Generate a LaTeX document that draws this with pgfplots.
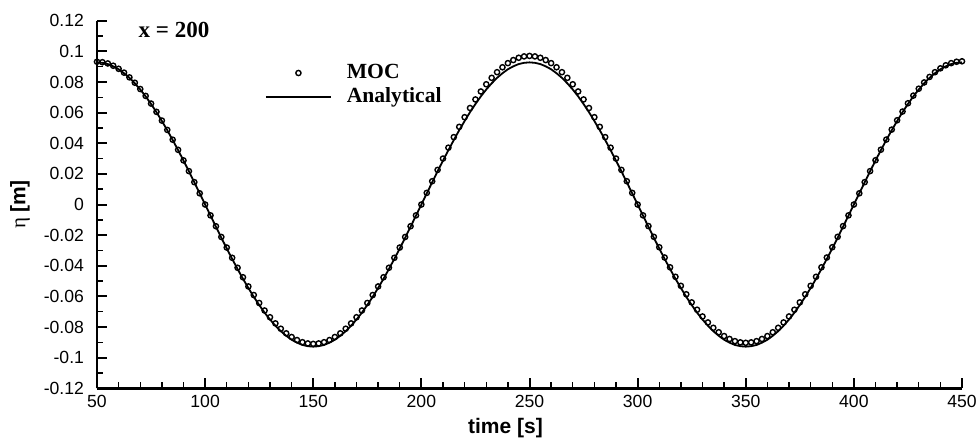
\documentclass[border=0pt]{standalone}
\usepackage{fontspec}
\setmainfont{Liberation Serif}
\setsansfont{Liberation Sans}
\usepackage{pgfplots}
\pgfplotsset{compat=1.18}
\begin{document}
\begin{tikzpicture}
\begin{axis}[
  scale only axis, width=432.5pt, height=183.8pt,
  xmin=50, xmax=450, ymin=-0.12, ymax=0.12,
  axis x line*=bottom, axis y line*=left,
  axis line style={line width=1.3pt, -},
  tick align=inside,
  major tick length=5pt, minor tick length=3pt,
  every major tick/.style={black, line width=1pt},
  every minor tick/.style={black, line width=0.7pt},
  xtick={50,100,150,200,250,300,350,400,450}, minor x tick num=4,
  ytick={-0.12,-0.1,-0.08,-0.06,-0.04,-0.02,0,0.02,0.04,0.06,0.08,0.1,0.12},
  minor y tick num=1,
  scaled y ticks=false, scaled x ticks=false,
  yticklabel style={/pgf/number format/fixed, /pgf/number format/precision=2, xshift=-3pt},
  /pgf/number format/assume math mode=true,
  ticklabel style={font=\sffamily\fontsize{8.8}{10}\selectfont},
  xlabel={\sffamily\bfseries time [s]},
  ylabel={{\rmfamily η} {\sffamily\bfseries [m]}},
  xlabel style={at={(axis description cs:0.5,0)}, anchor=center, xshift=-12pt, yshift=-20pt, font=\fontsize{10.5}{12}\selectfont},
  ylabel style={at={(axis description cs:0,0.5)}, anchor=center, rotate=0, yshift=38.5pt, font=\fontsize{10.5}{12}\selectfont},
  legend style={at={(axis cs:127.7,0.0915)}, anchor=north west, draw=none, fill=none,
    inner sep=0pt, outer sep=0pt, row sep=3pt, column sep=7.5pt,
    nodes={inner sep=0pt},
    font=\rmfamily\bfseries\fontsize{10.8}{11}\selectfont},
  legend cell align=left,
  legend image code/.code={\draw[mark repeat=2,mark phase=2,#1] plot coordinates {(0pt,0pt) (16.25pt,0pt) (32.5pt,0pt)};},
  clip=false,
]
\addplot[only marks, mark=o, mark size=1.3pt, mark options={line width=0.7pt, black}] coordinates {
(50,.0932)(52.5,.0929)(55,.0921)(57.5,.0906)(60,.0886)(62.5,.0861)(65,.0830)(67.5,.0795)(70,.0754)(72.5,.0709)(75,.0659)(77.5,.0605)(80,.0548)(82.5,.0487)(85,.0423)(87.5,.0357)(90,.0288)(92.5,.0218)(95,.0146)(97.5,.0073)(100,0)
(102.5,-.0071)(105,-.0142)(107.5,-.0212)(110,-.0281)(112.5,-.0348)(115,-.0413)(117.5,-.0475)(120,-.0535)(122.5,-.0591)(125,-.0643)(127.5,-.0692)(130,-.0736)(132.5,-.0776)(135,-.0811)(137.5,-.0841)(140,-.0865)(142.5,-.0885)(145,-.0899)(147.5,-.0907)(150,-.0910)
(152.5,-.0907)(155,-.0899)(157.5,-.0885)(160,-.0865)(162.5,-.0841)(165,-.0811)(167.5,-.0776)(170,-.0736)(172.5,-.0692)(175,-.0643)(177.5,-.0591)(180,-.0535)(182.5,-.0475)(185,-.0413)(187.5,-.0348)(190,-.0281)(192.5,-.0212)(195,-.0142)(197.5,-.0071)(200,0)
(202.5,.0076)(205,.0152)(207.5,.0226)(210,.0300)(212.5,.0371)(215,.0440)(217.5,.0507)(220,.0570)(222.5,.0630)(225,.0686)(227.5,.0738)(230,.0785)(232.5,.0827)(235,.0864)(237.5,.0896)(240,.0923)(242.5,.0943)(245,.0958)(247.5,.0967)(250,.0970)
(252.5,.0967)(255,.0958)(257.5,.0943)(260,.0923)(262.5,.0896)(265,.0864)(267.5,.0827)(270,.0785)(272.5,.0738)(275,.0686)(277.5,.0630)(280,.0570)(282.5,.0507)(285,.0440)(287.5,.0371)(290,.0300)(292.5,.0226)(295,.0152)(297.5,.0076)(300,0)
(302.5,-.0071)(305,-.0141)(307.5,-.0211)(310,-.0279)(312.5,-.0346)(315,-.0410)(317.5,-.0472)(320,-.0531)(322.5,-.0586)(325,-.0639)(327.5,-.0687)(330,-.0731)(332.5,-.0770)(335,-.0805)(337.5,-.0834)(340,-.0859)(342.5,-.0878)(345,-.0892)(347.5,-.0900)(350,-.0903)
(352.5,-.0900)(355,-.0892)(357.5,-.0878)(360,-.0859)(362.5,-.0834)(365,-.0805)(367.5,-.0770)(370,-.0731)(372.5,-.0687)(375,-.0639)(377.5,-.0586)(380,-.0531)(382.5,-.0472)(385,-.0410)(387.5,-.0346)(390,-.0279)(392.5,-.0211)(395,-.0141)(397.5,-.0071)(400,0)
(402.5,.0073)(405,.0146)(407.5,.0218)(410,.0289)(412.5,.0358)(415,.0424)(417.5,.0489)(420,.0550)(422.5,.0607)(425,.0661)(427.5,.0711)(430,.0756)(432.5,.0797)(435,.0833)(437.5,.0864)(440,.0889)(442.5,.0909)(445,.0923)(447.5,.0932)(450,.0935)
};
\addlegendentry{MOC}
\addplot[black, line width=0.9pt, no marks] coordinates {
(50,.0928)(52.5,.0925)(55,.0917)(57.5,.0902)(60,.0883)(62.5,.0857)(65,.0827)(67.5,.0791)(70,.0751)(72.5,.0706)(75,.0656)(77.5,.0603)(80,.0545)(82.5,.0485)(85,.0421)(87.5,.0355)(90,.0287)(92.5,.0217)(95,.0145)(97.5,.0073)(100,0)
(102.5,-.0073)(105,-.0145)(107.5,-.0217)(110,-.0287)(112.5,-.0355)(115,-.0421)(117.5,-.0485)(120,-.0545)(122.5,-.0603)(125,-.0656)(127.5,-.0706)(130,-.0751)(132.5,-.0791)(135,-.0827)(137.5,-.0857)(140,-.0883)(142.5,-.0902)(145,-.0917)(147.5,-.0925)(150,-.0928)
(152.5,-.0925)(155,-.0917)(157.5,-.0902)(160,-.0883)(162.5,-.0857)(165,-.0827)(167.5,-.0791)(170,-.0751)(172.5,-.0706)(175,-.0656)(177.5,-.0603)(180,-.0545)(182.5,-.0485)(185,-.0421)(187.5,-.0355)(190,-.0287)(192.5,-.0217)(195,-.0145)(197.5,-.0073)(200,0)
(202.5,.0073)(205,.0145)(207.5,.0217)(210,.0287)(212.5,.0355)(215,.0421)(217.5,.0485)(220,.0545)(222.5,.0603)(225,.0656)(227.5,.0706)(230,.0751)(232.5,.0791)(235,.0827)(237.5,.0857)(240,.0883)(242.5,.0902)(245,.0917)(247.5,.0925)(250,.0928)
(252.5,.0925)(255,.0917)(257.5,.0902)(260,.0883)(262.5,.0857)(265,.0827)(267.5,.0791)(270,.0751)(272.5,.0706)(275,.0656)(277.5,.0603)(280,.0545)(282.5,.0485)(285,.0421)(287.5,.0355)(290,.0287)(292.5,.0217)(295,.0145)(297.5,.0073)(300,0)
(302.5,-.0073)(305,-.0145)(307.5,-.0217)(310,-.0287)(312.5,-.0355)(315,-.0421)(317.5,-.0485)(320,-.0545)(322.5,-.0603)(325,-.0656)(327.5,-.0706)(330,-.0751)(332.5,-.0791)(335,-.0827)(337.5,-.0857)(340,-.0883)(342.5,-.0902)(345,-.0917)(347.5,-.0925)(350,-.0928)
(352.5,-.0925)(355,-.0917)(357.5,-.0902)(360,-.0883)(362.5,-.0857)(365,-.0827)(367.5,-.0791)(370,-.0751)(372.5,-.0706)(375,-.0656)(377.5,-.0603)(380,-.0545)(382.5,-.0485)(385,-.0421)(387.5,-.0355)(390,-.0287)(392.5,-.0217)(395,-.0145)(397.5,-.0073)(400,0)
(402.5,.0073)(405,.0145)(407.5,.0217)(410,.0287)(412.5,.0355)(415,.0421)(417.5,.0485)(420,.0545)(422.5,.0603)(425,.0656)(427.5,.0706)(430,.0751)(432.5,.0791)(435,.0827)(437.5,.0857)(440,.0883)(442.5,.0902)(445,.0917)(447.5,.0925)(450,.0928)
};
\addlegendentry{Analytical}
\node[font=\rmfamily\bfseries\fontsize{11.5}{13}\selectfont] at (axis cs:85.6,0.114) {x = 200};
\coordinate (sw) at (rel axis cs:0,0);
\coordinate (ne) at (rel axis cs:1,1);
\end{axis}
\pgfresetboundingbox
\path ([shift={(-48.5pt,-25.85pt)}]sw) rectangle ([shift={(8pt,10.35pt)}]ne);
\end{tikzpicture}
\end{document}
